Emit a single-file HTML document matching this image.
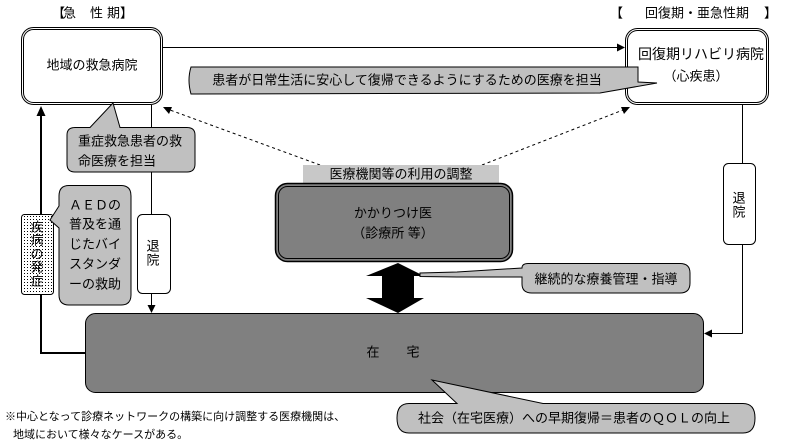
<!DOCTYPE html>
<html><head><meta charset="utf-8"><style>
html,body{margin:0;padding:0;background:#fff;}
svg{display:block;}
text{font-family:"Liberation Sans","Noto Sans CJK JP",sans-serif;fill:#000;}
</style></head><body>
<svg width="785" height="443" viewBox="0 0 785 443" xmlns="http://www.w3.org/2000/svg">
<defs>
<pattern id="dots" width="3" height="3" patternUnits="userSpaceOnUse">
<rect width="3" height="3" fill="#fff"/><rect x="0" y="0" width="1" height="1" fill="#000"/>
</pattern>
</defs>

<!-- top labels -->
<text x="52" y="13" font-size="13" dominant-baseline="central">【</text>
<text x="63" y="13" font-size="13" dominant-baseline="central">急</text>
<text x="90" y="13" font-size="13" dominant-baseline="central">性</text>
<text x="107" y="13" font-size="13" dominant-baseline="central">期】</text>
<text x="610" y="13" font-size="13" dominant-baseline="central">【</text>
<text x="645" y="13" font-size="13" dominant-baseline="central">回復期・亜急性期</text>
<text x="764" y="13" font-size="13" dominant-baseline="central">】</text>

<!-- connectors -->
<line x1="163" y1="47.5" x2="618" y2="47.5" stroke="#000" stroke-width="1"/>
<polygon points="625,47.5 617,43.5 617,51.5" fill="#000"/>

<line x1="320" y1="165" x2="170" y2="110" stroke="#000" stroke-width="1" stroke-dasharray="3,3"/>
<polygon points="163,107 172,107 169,114" fill="#000"/>
<line x1="482" y1="165" x2="623" y2="110" stroke="#000" stroke-width="1" stroke-dasharray="3,3"/>
<polygon points="630,107 621,107 624,114" fill="#000"/>

<!-- right vertical line -->
<line x1="742.5" y1="105" x2="742.5" y2="333.5" stroke="#000" stroke-width="1"/>
<line x1="742.5" y1="333.5" x2="710" y2="333.5" stroke="#000" stroke-width="1"/>
<polygon points="704,333.5 712,329.5 712,337.5" fill="#000"/>

<!-- left middle line -->
<line x1="151.5" y1="105" x2="151.5" y2="306" stroke="#000" stroke-width="1"/>
<polygon points="151.5,313 147.5,305 155.5,305" fill="#000"/>

<!-- thick left line -->
<polyline points="85,353 41,353 41,114" fill="none" stroke="#000" stroke-width="2"/>
<polygon points="41,106 36.5,116 45.5,116" fill="#000"/>

<!-- Box1 -->
<rect x="21.5" y="27.5" width="141" height="77" rx="12" fill="#fff" stroke="#000"/>
<rect x="23.5" y="29.5" width="137" height="73" rx="10" fill="none" stroke="#000"/>
<text x="92" y="65" font-size="13" text-anchor="middle" dominant-baseline="central">地域の救急病院</text>

<!-- Box2 -->
<rect x="625.5" y="28.5" width="143" height="76" rx="12" fill="#fff" stroke="#000"/>
<rect x="627.5" y="30.5" width="139" height="72" rx="10" fill="none" stroke="#000"/>
<text x="701" y="54" font-size="14" text-anchor="middle" dominant-baseline="central">回復期リハビリ病院</text>
<text x="696" y="76" font-size="13" text-anchor="middle" dominant-baseline="central">（心疾患）</text>

<!-- 患者 callout -->
<path d="M191,67 L638,67 L638,82 L657,83 L600,93 L191,94 Q187,80 191,67 Z" fill="#c0c0c0" stroke="#000" stroke-width="1"/>
<text x="407" y="80" font-size="13" text-anchor="middle" dominant-baseline="central">患者が日常生活に安心して復帰できるようにするための医療を担当</text>

<!-- 重症 callout -->
<path d="M75,127.5 L90,127.5 L113,103 L120,127.5 L187,127.5 Q195,127.5 195,135 L195,164 Q195,172 187,172 L75,172 Q67,172 67,164 L67,135 Q67,127.5 75,127.5 Z" fill="#c0c0c0" stroke="#000"/>
<text x="78" y="141" font-size="13" dominant-baseline="central">重症救急患者の救</text>
<text x="78" y="161" font-size="13" dominant-baseline="central">命医療を担当</text>

<!-- 疾病の発症 -->
<rect x="21.5" y="214.5" width="32" height="80" rx="3" fill="url(#dots)" stroke="#000"/>
<g font-size="13" text-anchor="middle">
<text x="37" y="227" dominant-baseline="central">疾</text>
<text x="37" y="240" dominant-baseline="central">病</text>
<text x="37" y="254" dominant-baseline="central">の</text>
<text x="37" y="267" dominant-baseline="central">発</text>
<text x="37" y="281" dominant-baseline="central">症</text>
</g>

<!-- AED callout -->
<path d="M69,185.5 L121,185.5 Q131,185.5 131,196 L131,295 Q131,305 121,305 L69,305 Q59,305 59,295 L59,228 L50,220 L59,206 L59,196 Q59,185.5 69,185.5 Z" fill="#c0c0c0" stroke="#000"/>
<g font-size="13">
<text x="69" y="205" dominant-baseline="central">ＡＥＤの</text>
<text x="69" y="224" dominant-baseline="central">普及を通</text>
<text x="69" y="244" dominant-baseline="central">じたバイ</text>
<text x="69" y="264" dominant-baseline="central">スタンダ</text>
<text x="69" y="284" dominant-baseline="central">ーの救助</text>
</g>

<!-- 退院 left -->
<rect x="137.5" y="214.5" width="33" height="79" rx="5" fill="#fff" stroke="#000"/>
<text x="153" y="246" font-size="13" text-anchor="middle" dominant-baseline="central">退</text>
<text x="153" y="260" font-size="13" text-anchor="middle" dominant-baseline="central">院</text>

<!-- 退院 right -->
<rect x="723.5" y="163.5" width="32" height="81" rx="5" fill="#fff" stroke="#000"/>
<text x="739" y="198" font-size="13" text-anchor="middle" dominant-baseline="central">退</text>
<text x="739" y="212" font-size="13" text-anchor="middle" dominant-baseline="central">院</text>

<!-- 医療機関等 label -->
<rect x="303" y="165" width="196" height="18" fill="#c8c8c8"/>
<text x="401" y="174" font-size="13" text-anchor="middle" dominant-baseline="central">医療機関等の利用の調整</text>

<!-- かかりつけ医 -->
<rect x="275.5" y="183.5" width="237" height="78" rx="12" fill="#808080" stroke="#000" stroke-width="1.5"/>
<rect x="278.5" y="186.5" width="231" height="72" rx="9" fill="none" stroke="#000" stroke-width="1"/>
<text x="393" y="213" font-size="13" text-anchor="middle" dominant-baseline="central">かかりつけ医</text>
<text x="393" y="233" font-size="13" text-anchor="middle" dominant-baseline="central">（診療所 等）</text>

<!-- double arrow -->
<polygon points="398,263 424,276 414,276 414,298 424,298 398,313 366,298 382,298 382,276 366,276" fill="#000"/>

<!-- 継続的 callout -->
<path d="M528,263.5 L680,263.5 Q690,263.5 690,273 L690,283 Q690,293 680,293 L532,293 Q522,293 522,284 L522,277 L457,277 L420,276.5 L420,273 L457,272 L522,268 Q522,263.5 528,263.5 Z" fill="#c0c0c0" stroke="#000"/>
<text x="606" y="279" font-size="13" text-anchor="middle" dominant-baseline="central">継続的な療養管理・指導</text>

<!-- 在宅 -->
<rect x="85.5" y="313.5" width="618" height="79" rx="10" fill="#808080" stroke="#000"/>
<text x="373" y="352" font-size="13" text-anchor="middle" dominant-baseline="central">在</text>
<text x="413" y="352" font-size="13" text-anchor="middle" dominant-baseline="central">宅</text>

<!-- 社会 callout -->
<path d="M409,403.5 L457,403.5 L432,380 L543,403.5 L743,403.5 Q755,403.5 755,418 Q755,433 743,433 L409,433 Q397,433 397,418 Q397,403.5 409,403.5 Z" fill="#c0c0c0" stroke="#000"/>
<text x="574" y="418" font-size="13" text-anchor="middle" dominant-baseline="central">社会（在宅医療）への早期復帰＝患者のＱＯＬの向上</text>

<!-- footnote -->
<text x="5" y="417" font-size="11" dominant-baseline="central">※中心となって診療ネットワークの構築に向け調整する医療機関は、</text>
<text x="13" y="435" font-size="11" dominant-baseline="central">地域において様々なケースがある。</text>
</svg>
</body></html>
